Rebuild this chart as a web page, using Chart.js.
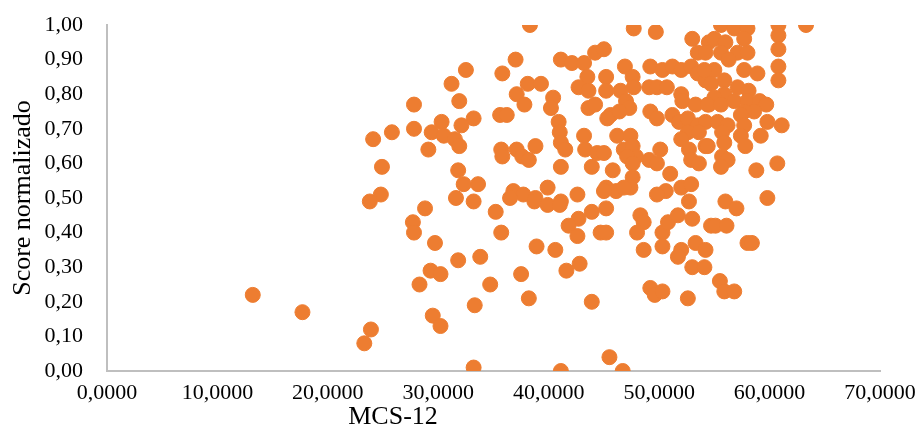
<!DOCTYPE html>
<html>
<head>
<meta charset="utf-8">
<script src="https://cdn.jsdelivr.net/npm/chart.js@4"></script>
<style>
  html, body { margin: 0; padding: 0; background: #fff; }
  #wrap { width: 920px; height: 428px; }
</style>
</head>
<body>
<div id="wrap"><canvas id="grafica" width="920" height="428"></canvas></div>
<script>
// valores (MCS-12 vs score normalizado)
const mcs = [
  13.2, 17.7, 32.5, 31.2, 31.9, 27.8, 30.3, 33.2, 32.1, 27.8, 25.8, 24.1, 29.4, 30.5, 31.5, 31.9,
  29.1, 24.9, 31.8, 32.3, 33.6, 24.8, 23.8, 31.6, 33.2, 28.8, 27.7, 27.8, 29.7, 31.8, 33.8, 29.3,
  30.2, 28.3, 33.3, 29.5, 30.2, 23.9, 23.3, 33.2,
  38.3, 37.0, 35.8, 41.1, 42.1, 43.2, 44.2, 43.5, 42.7, 43.6, 38.1, 39.3, 37.1, 37.8, 40.4, 40.2,
  43.6, 44.2, 35.6, 36.2, 40.9, 41.0, 43.2, 41.1, 41.5, 35.7, 35.8, 37.1, 37.6, 38.2, 38.8, 43.3,
  44.4, 43.9, 41.1, 36.8, 37.7, 39.9, 38.8, 42.6, 41.1, 36.5, 38.7, 39.9, 41.0, 35.2, 42.7, 43.9,
  41.8, 42.6, 35.7, 38.9, 40.6, 37.5, 41.6, 42.8, 34.7, 38.2, 43.9, 41.1, 44.7,
  47.7, 49.7, 53.0, 54.5, 45.0, 53.5, 46.9, 49.2, 50.3, 51.2, 52.0, 52.9, 53.5, 54.2, 47.6, 45.2,
  47.7, 46.5, 45.2, 49.1, 49.8, 50.7, 52.0, 52.1, 53.3, 54.5, 47.0, 47.3, 45.6, 45.3, 46.4, 49.2,
  49.8, 51.2, 51.8, 52.6, 53.5, 54.2, 52.6, 52.0, 53.6, 46.2, 47.4, 46.8, 47.6, 47.9, 47.1, 45.0,
  47.6, 49.1, 50.1, 49.8, 52.7, 52.9, 53.6, 54.2, 45.8, 51.0, 45.2, 46.1, 47.6, 47.4, 46.8, 50.6,
  49.8, 52.0, 52.9, 52.7, 45.0, 45.2, 45.2, 48.3, 48.6, 48.0, 50.3, 50.8, 51.7, 53.0, 48.6, 50.3,
  52.0, 51.7, 53.3, 54.2, 53.0, 54.1, 54.7, 49.2, 49.6, 50.3, 52.6, 45.5, 46.7,
  55.6, 56.8, 58.0, 60.8, 60.8, 60.8, 63.3, 55.0, 56.0, 57.7, 57.1, 55.6, 58.0, 54.2, 56.3, 60.8,
  60.8, 57.7, 58.9, 55.0, 54.1, 55.9, 54.7, 57.1, 58.1, 55.9, 55.0, 54.4, 55.6, 56.8, 58.0, 59.1,
  59.7, 58.6, 57.7, 57.4, 59.8, 61.1, 55.3, 56.2, 57.7, 55.7, 57.4, 59.2, 54.4, 55.9, 57.8, 55.7,
  56.2, 55.6, 58.8, 60.7, 56.0, 59.8, 57.0, 55.1, 56.1, 58.0, 58.4, 55.5, 55.9, 56.8
]
const score = [
  0.22, 0.17, 0.87, 0.83, 0.78, 0.77, 0.72, 0.73, 0.71, 0.70, 0.69, 0.67, 0.69, 0.68, 0.67, 0.65,
  0.64, 0.59, 0.58, 0.54, 0.54, 0.51, 0.49, 0.50, 0.49, 0.47, 0.43, 0.40, 0.37, 0.32, 0.33, 0.29,
  0.28, 0.25, 0.19, 0.16, 0.13, 0.12, 0.08, 0.01,
  1.00, 0.90, 0.86, 0.90, 0.89, 0.89, 0.92, 0.85, 0.82, 0.81, 0.83, 0.83, 0.80, 0.77, 0.79, 0.76,
  0.76, 0.77, 0.74, 0.74, 0.72, 0.69, 0.68, 0.66, 0.64, 0.64, 0.62, 0.64, 0.62, 0.61, 0.65, 0.64,
  0.63, 0.59, 0.59, 0.52, 0.51, 0.53, 0.50, 0.51, 0.49, 0.50, 0.49, 0.48, 0.48, 0.46, 0.44, 0.46,
  0.42, 0.39, 0.40, 0.36, 0.35, 0.28, 0.29, 0.31, 0.25, 0.21, 0.20, 0.00, 0.40,
  0.99, 0.98, 0.96, 0.95, 0.93, 0.92, 0.88, 0.88, 0.87, 0.88, 0.87, 0.88, 0.86, 0.84, 0.85, 0.85,
  0.82, 0.81, 0.81, 0.82, 0.82, 0.82, 0.80, 0.78, 0.77, 0.77, 0.78, 0.76, 0.74, 0.73, 0.75, 0.75,
  0.73, 0.74, 0.72, 0.73, 0.71, 0.72, 0.69, 0.67, 0.69, 0.68, 0.68, 0.64, 0.65, 0.62, 0.62, 0.63,
  0.60, 0.61, 0.64, 0.60, 0.64, 0.61, 0.60, 0.65, 0.58, 0.57, 0.53, 0.52, 0.56, 0.53, 0.53, 0.52,
  0.51, 0.53, 0.54, 0.49, 0.52, 0.47, 0.40, 0.45, 0.43, 0.40, 0.40, 0.43, 0.45, 0.44, 0.35, 0.36,
  0.35, 0.33, 0.37, 0.35, 0.30, 0.30, 0.42, 0.24, 0.22, 0.23, 0.21, 0.04, 0.00,
  1.00, 0.99, 0.99, 1.00, 0.97, 0.93, 1.00, 0.96, 0.95, 0.96, 0.92, 0.92, 0.92, 0.92, 0.90, 0.88,
  0.84, 0.87, 0.86, 0.87, 0.87, 0.84, 0.83, 0.82, 0.81, 0.80, 0.79, 0.77, 0.77, 0.78, 0.78, 0.78,
  0.77, 0.75, 0.75, 0.74, 0.72, 0.71, 0.72, 0.71, 0.71, 0.69, 0.68, 0.68, 0.65, 0.66, 0.65, 0.62,
  0.61, 0.59, 0.58, 0.60, 0.49, 0.50, 0.47, 0.42, 0.42, 0.37, 0.37, 0.26, 0.23, 0.23
]
const xTicks = [0, 10, 20, 30, 40, 50, 60, 70]
const yTicks = [0, 0.1, 0.2, 0.3, 0.4, 0.5, 0.6, 0.7, 0.8, 0.9, 1]

const fuente = "'Liberation Serif', 'Times New Roman', serif"
const naranja = '#ED7D31'
const gris = '#BFBFBF'

// titulo del eje x, algo desplazado a la izquierda como en el original
const tituloX = {
  id: 'tituloX',
  afterDraw(chart) {
    const ctx = chart.ctx
    const area = chart.chartArea
    ctx.save()
    ctx.font = '26px ' + fuente
    ctx.fillStyle = '#000'
    ctx.textAlign = 'center'
    ctx.textBaseline = 'middle'
    ctx.fillText('MCS-12', area.left + (area.right - area.left) * 0.37, 417)
    ctx.restore()
  }
}

new Chart(document.getElementById('grafica'), {
  type: 'scatter',
  data: {
    datasets: [{
      label: 'Score normalizado',
      data: mcs.map((x, i) => ({ x: x, y: score[i] })),
      backgroundColor: naranja,
      borderColor: naranja,
      borderWidth: 1,
      pointRadius: 7.5,
      pointHoverRadius: 7.5
    }]
  },
  options: {
    responsive: false,
    animation: false,
    events: [],
    layout: { autoPadding: false, padding: { top: 25, right: 40, left: 0, bottom: 0 } },
    plugins: {
      legend: { display: false },
      tooltip: { enabled: false }
    },
    scales: {
      x: {
        type: 'linear',
        min: 0,
        max: 70,
        afterBuildTicks: (s) => { s.ticks = xTicks.map(v => ({ value: v })) },
        // alto fijo y sin relleno extra para que el area coincida con el original
        afterFit: (s) => { s.height = 57; s.paddingLeft = 0; s.paddingRight = 0 },
        grid: { display: false, drawTicks: false },
        border: { display: true, color: gris, width: 2 },
        ticks: {
          padding: 9,
          color: '#000',
          font: { family: fuente, size: 22 },
          maxRotation: 0,
          callback: (v) => v.toFixed(4).replace('.', ',')
        }
      },
      y: {
        type: 'linear',
        min: 0,
        max: 1,
        afterBuildTicks: (s) => { s.ticks = yTicks.map(v => ({ value: v })) },
        afterFit: (s) => { s.width = 107; s.paddingTop = 0; s.paddingBottom = 0 },
        grid: { display: false, drawTicks: false },
        border: { display: true, color: gris, width: 2 },
        ticks: {
          padding: 24,
          color: '#000',
          font: { family: fuente, size: 22 },
          callback: (v) => v.toFixed(2).replace('.', ',')
        },
        title: {
          display: true,
          text: 'Score normalizado',
          color: '#000',
          font: { family: fuente, size: 26 },
          padding: { top: 8, bottom: 0 }
        }
      }
    }
  },
  plugins: [tituloX]
})
</script>
</body>
</html>
